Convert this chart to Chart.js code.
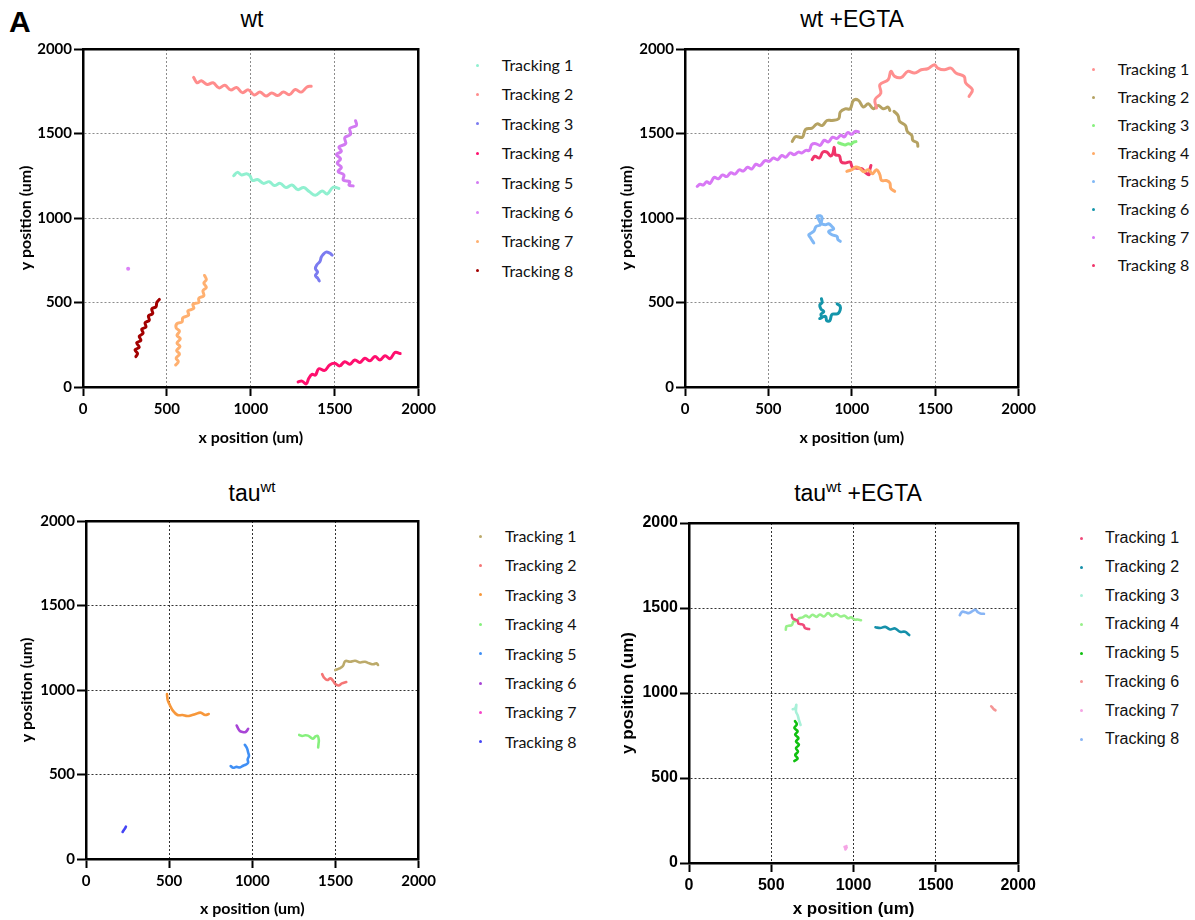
<!DOCTYPE html>
<html>
<head>
<meta charset="utf-8">
<script src="https://cdn.jsdelivr.net/npm/chart.js@4.4.1/dist/chart.umd.min.js"></script>
<style>
  body { margin: 0; background: #fff; width: 1195px; height: 920px; position: relative; overflow: hidden; }
  canvas { position: absolute; }
  .title { position: absolute; width: 300px; font-family: "Liberation Sans", Arial, sans-serif; font-size: 23px; line-height: 23px; text-align: center; white-space: nowrap; color: #000; }
  .title sup { font-size: 15px; line-height: 0; vertical-align: 9px; }
  .leg { position: absolute; white-space: nowrap; color: #111; }
  .dot { position: absolute; width: 3px; height: 3px; border-radius: 50%; }
  #letter { position: absolute; left: 9px; top: 5px; font: bold 30px "Liberation Sans", Arial, sans-serif; }
</style>
</head>
<body>
<div id="letter">A</div>
<div class="title" style="left:102px; top:8px;">wt</div>
<div class="title" style="left:702px; top:8px;">wt +EGTA</div>
<div class="title" style="left:102px; top:482px;">tau<sup>wt</sup></div>
<div class="title" style="left:708px; top:482px;">tau<sup>wt</sup> +EGTA</div>
<canvas id="c1" width="440" height="450" style="left:0px; top:0px;"></canvas>
<canvas id="c2" width="440" height="450" style="left:600px; top:0px;"></canvas>
<canvas id="c3" width="440" height="450" style="left:0px; top:470px;"></canvas>
<canvas id="c4" width="440" height="450" style="left:600px; top:470px;"></canvas>
<script>
// 軸の範囲と目盛り
const AXIS_MIN = 0;
const AXIS_MAX = 2000;
const TICK_STEP = 500;
const trackNames = ['Tracking 1', 'Tracking 2', 'Tracking 3', 'Tracking 4', 'Tracking 5', 'Tracking 6', 'Tracking 7', 'Tracking 8'];

// ---- wt ----
const wtColors = ['#90f0d0', '#ff8c8c', '#7b7bf0', '#ff0f6e', '#d27af2', '#dc82f7', '#ffb070', '#a30000'];
const wt1 = [[898,1250],[920,1270],[945,1255],[975,1262],[995,1250],[1010,1222],[1040,1228],[1075,1205],[1110,1215],[1140,1192],[1175,1205],[1210,1180],[1245,1195],[1280,1168],[1315,1180],[1350,1155],[1385,1135],[1425,1160],[1455,1142],[1490,1182],[1525,1175]];
const wt2 = [[659,1832],[680,1800],[705,1812],[740,1790],[775,1800],[810,1770],[845,1785],[880,1758],[915,1772],[950,1742],[985,1758],[1020,1728],[1055,1745],[1090,1722],[1125,1740],[1160,1725],[1195,1745],[1230,1730],[1265,1760],[1300,1745],[1335,1775],[1360,1780]];
const wt3 = [[1485,780],[1470,792],[1448,798],[1432,785],[1420,768],[1412,742],[1395,725],[1385,700],[1398,680],[1385,660],[1400,642],[1408,628]];
const wt4 = [[1282,30],[1305,35],[1330,18],[1345,50],[1365,75],[1385,70],[1405,108],[1440,98],[1470,130],[1500,140],[1530,125],[1560,150],[1590,135],[1620,160],[1650,145],[1680,170],[1710,155],[1740,180],[1770,160],[1800,185],[1830,168],[1860,205],[1890,198]];
const wt5 = [[1624,1576],[1630,1548],[1590,1530],[1595,1495],[1560,1475],[1565,1440],[1525,1420],[1540,1395],[1510,1375],[1535,1350],[1515,1325],[1540,1300],[1520,1275],[1555,1255],[1550,1225],[1590,1215],[1585,1195],[1610,1190]];
const wt6 = [[269,700]];
const wt7 = [[724,660],[735,635],[720,615],[735,590],[715,570],[720,540],[690,525],[690,500],[655,490],[660,465],[625,450],[630,425],[595,410],[590,385],[560,375],[555,350],[575,330],[560,305],[580,285],[560,260],[578,240],[558,215],[575,195],[555,170],[568,150],[552,130]];
const wt8 = [[455,518],[440,500],[435,475],[410,462],[415,435],[390,420],[395,395],[370,380],[375,355],[350,342],[358,318],[335,300],[345,275],[320,262],[335,235],[310,220],[325,198],[315,180]];

// ---- wt +EGTA ----
const egColors = ['#ff8f8f', '#b5a262', '#86f07d', '#ffaa66', '#80b8f5', '#1495aa', '#d878f5', '#f0346a'];
const eg1 = [[1148,1651],[1139,1700],[1174,1739],[1168,1789],[1218,1818],[1234,1868],[1257,1838],[1297,1832],[1336,1868],[1376,1858],[1416,1877],[1455,1883],[1495,1907],[1515,1887],[1554,1877],[1594,1887],[1624,1858],[1673,1838],[1683,1799],[1723,1759],[1703,1720]];
const eg2 = [[643,1453],[663,1482],[703,1478],[723,1524],[762,1532],[792,1557],[822,1547],[851,1577],[881,1577],[921,1587],[931,1627],[960,1646],[990,1646],[1010,1696],[1040,1696],[1069,1657],[1099,1676],[1129,1646],[1158,1666],[1188,1646],[1218,1656],[1228,1637],[1240,null],[1253,1631],[1277,1607],[1287,1572],[1321,1548],[1333,1512],[1360,1488],[1366,1459],[1392,1445],[1396,1425]];
const eg3 = [[921,1445],[940,1438],[960,1432],[980,1440],[995,1436],[1010,1448],[1025,1452]];
const eg4 = [[970,1276],[1000,1286],[1024,1302],[1049,1292],[1073,1273],[1099,1286],[1123,1262],[1148,1286],[1168,1257],[1178,1222],[1208,1222],[1228,1208],[1234,1174],[1257,1158]];
const eg5 = [[772,852],[753,882],[742,901],[772,921],[786,950],[812,960],[802,990],[792,1009],[812,1013],[822,1000],[818,970],[842,960],[861,966],[881,950],[891,935],[861,921],[881,901],[911,891],[917,872],[931,862]];
const eg6 = [[818,522],[822,500],[808,485],[815,462],[832,445],[815,430],[820,410],[808,405],[842,418],[850,392],[868,392],[880,428],[900,432],[918,435],[930,455],[930,478],[912,492]];
const eg7 = [[73,1187],[90,1200],[110,1195],[130,1215],[150,1205],[175,1240],[200,1232],[225,1255],[250,1245],[275,1268],[300,1260],[325,1285],[350,1278],[375,1300],[400,1290],[425,1318],[450,1310],[480,1340],[505,1335],[530,1355],[555,1345],[580,1370],[605,1360],[630,1385],[655,1375],[680,1390],[700,1385],[725,1400],[745,1400],[760,1435],[785,1440],[810,1430],[835,1460],[860,1450],[885,1478],[910,1470],[935,1490],[955,1480],[975,1505],[1000,1495],[1020,1512],[1040,1510]];
const eg8 = [[762,1345],[778,1365],[806,1355],[826,1390],[851,1390],[871,1368],[885,1378],[895,1418],[901,1374],[925,1368],[937,1331],[960,1325],[990,1331],[1004,1299],[1030,1295],[1059,1292],[1079,1272],[1103,1256],[1109,1290],[1115,1311]];

// ---- tau wt ----
const tauColors = ['#bcaa6a', '#f57575', '#f7973a', '#86f07d', '#3f8ff5', '#a845d6', '#f545c8', '#4545f5'];
const tau1 = [[1499,1118],[1525,1128],[1545,1142],[1559,1171],[1588,1167],[1618,1173],[1648,1163],[1677,1167],[1703,1158],[1727,1152],[1747,1158],[1756,1148]];
const tau2 = [[1420,1094],[1430,1075],[1450,1059],[1470,1069],[1485,1055],[1499,1035],[1519,1027],[1539,1039],[1565,1047]];
const tau3 = [[487,976],[491,941],[504,911],[520,881],[550,852],[580,852],[609,846],[639,852],[659,858],[688,866],[718,852],[738,858]];
const tau4 = [[1282,734],[1300,728],[1318,732],[1335,730],[1350,720],[1365,712],[1380,725],[1393,728],[1400,704],[1398,680],[1396,660]];
const tau5 = [[955,676],[968,655],[975,630],[980,610],[972,590],[975,570],[960,558],[945,552],[925,542],[905,545],[885,540],[870,550]];
const tau6 = [[906,790],[915,772],[925,758],[940,752],[955,750],[965,756],[975,770]];
const tau7 = [];
const tau8 = [[220,160],[228,172],[235,182],[240,192]];

// ---- tau wt +EGTA ----
const tegColors = ['#f04a7a', '#1590aa', '#a8f0d8', '#98f08a', '#10c010', '#f59595', '#f5a5e5', '#88b5f5'];
const teg1 = [[624,1460],[630,1440],[645,1432],[660,1425],[665,1408],[680,1405],[695,1400],[705,1382],[718,1378],[730,1376]];
const teg2 = [[1133,1387],[1162,1382],[1192,1389],[1222,1374],[1252,1380],[1282,1360],[1312,1360],[1338,1341]];
const teg3 = [[630,905],[645,910],[652,930],[650,890],[660,870],[668,840],[678,812]];
const teg4 = [[588,1372],[592,1392],[605,1395],[625,1400],[635,1420],[655,1425],[670,1440],[690,1445],[710,1455],[730,1445],[750,1460],[775,1448],[795,1462],[820,1450],[845,1470],[870,1452],[895,1465],[920,1450],[945,1455],[965,1440],[985,1445],[1005,1432],[1025,1432],[1045,1428]];
const teg5 = [[644,835],[655,815],[640,795],[660,775],[645,755],[665,735],[650,715],[668,695],[650,675],[662,655],[645,635],[660,615],[640,600]];
const teg6 = [[1836,922],[1845,912],[1852,905],[1862,898]];
const teg7 = [[945,95],[952,85],[958,92],[950,80],[956,100]];
const teg8 = [[1645,1458],[1660,1478],[1680,1475],[1700,1470],[1720,1480],[1740,1490],[1755,1475],[1770,1468],[1792,1466]];

/**
 * パネル設定
 */
const panels = [
  { canvas: 'c1', tracks: [wt1, wt2, wt3, wt4, wt5, wt6, wt7, wt8], colors: wtColors,
    yw: 83, xh: 63, pt: 49, pr: 20, ytp: 16, xtp: 3, family: 'Lato', tick: 15, ttl: 16, grid: '#8c8c8c', lw: 3,
    leg: { dotX: 477.7, textX: 501.7, y0: 65, dy: 29.4, family: 'Lato', size: 16 } },
  { canvas: 'c2', tracks: [eg1, eg2, eg3, eg4, eg5, eg6, eg7, eg8], colors: egColors,
    yw: 85, xh: 63, pt: 49, pr: 18, ytp: 17, xtp: 3, family: 'Lato', tick: 15, ttl: 16, grid: '#8c8c8c', lw: 3,
    leg: { dotX: 1093, textX: 1117.7, y0: 69, dy: 28, family: 'Lato', size: 16 } },
  { canvas: 'c3', tracks: [tau1, tau2, tau3, tau4, tau5, tau6, tau7, tau8], colors: tauColors,
    yw: 86, xh: 61, pt: 51, pr: 17, ytp: 17, xtp: 2, family: 'Lato', tick: 15, ttl: 16, grid: '#333', lw: 2.6,
    leg: { dotX: 480.7, textX: 505, y0: 536, dy: 29.4, family: 'Lato', size: 16 } },
  { canvas: 'c4', tracks: [teg1, teg2, teg3, teg4, teg5, teg6, teg7, teg8], colors: tegColors,
    yw: 89, xh: 57, pt: 53, pr: 17, ytp: 18, xtp: 0, family: '"Liberation Sans", Arial', tick: 16, ttl: 17, grid: '#333', lw: 2.6,
    leg: { dotX: 1081.7, textX: 1105, y0: 538.3, dy: 28.7, family: '"Liberation Sans", Arial', size: 16 } }
];

function toPoints(arr) {
  return arr.map(p => ({ x: p[0], y: p[1] }));
}

function makeAxis(p, axis) {
  return {
    type: 'linear',
    position: axis === 'x' ? 'bottom' : 'left',
    min: AXIS_MIN,
    max: AXIS_MAX,
    ticks: {
      stepSize: TICK_STEP,
      color: '#000',
      padding: axis === 'x' ? 4 : 2,
      font: { family: p.family, size: p.tick, weight: 'bold' },
      callback: v => String(v)
    },
    grid: {
      color: p.grid,
      lineWidth: 1,
      tickColor: '#000',
      tickWidth: 2,
      tickLength: 9,
      tickBorderDash: []
    },
    border: { display: true, color: '#000', width: 2.5, dash: [2, 2] },
    title: {
      display: true,
      text: axis === 'x' ? 'x position (um)' : 'y position (um)',
      color: '#000',
      font: { family: p.family, size: p.ttl, weight: 'bold' },
      padding: axis === 'x' ? { top: 0, bottom: p.xtp } : { top: p.ytp, bottom: 0 }
    },
    afterFit: s => {
      if (axis === 'x') s.height = p.xh; else s.width = p.yw;
    }
  };
}

function frameAxis(axis) {
  return {
    type: 'linear',
    position: axis === 'x' ? 'top' : 'right',
    min: AXIS_MIN,
    max: AXIS_MAX,
    ticks: { display: false },
    grid: { display: false },
    border: { display: true, color: '#000', width: 2.5 },
    afterFit: s => {
      if (axis === 'x') s.height = 0; else s.width = 0;
    }
  };
}

function drawLegend(p) {
  const L = p.leg;
  trackNames.forEach((name, i) => {
    const cy = L.y0 + i * L.dy;
    const dot = document.createElement('div');
    dot.className = 'dot';
    dot.style.left = (L.dotX - 1.5) + 'px';
    dot.style.top = (cy - 1.5) + 'px';
    dot.style.background = p.colors[i];
    document.body.appendChild(dot);

    const t = document.createElement('div');
    t.className = 'leg';
    t.textContent = name;
    t.style.left = L.textX + 'px';
    t.style.top = (cy - 10) + 'px';
    t.style.lineHeight = '20px';
    t.style.fontFamily = L.family;
    t.style.fontSize = L.size + 'px';
    document.body.appendChild(t);
  });
}

panels.forEach(p => {
  const ctx = document.getElementById(p.canvas).getContext('2d');
  new Chart(ctx, {
    type: 'scatter',
    data: {
      datasets: p.tracks.map((tr, i) => ({
        label: trackNames[i],
        data: toPoints(tr),
        showLine: true,
        borderColor: p.colors[i],
        backgroundColor: p.colors[i],
        borderWidth: p.lw,
        borderCapStyle: 'round',
        borderJoinStyle: 'round',
        tension: 0.4,
        spanGaps: false,
        pointRadius: tr.length === 1 ? 2 : 0,
        pointBorderWidth: 0
      }))
    },
    options: {
      responsive: false,
      animation: false,
      devicePixelRatio: 1,
      layout: { padding: { top: p.pt, right: p.pr, left: 0, bottom: 0 } },
      plugins: { legend: { display: false }, tooltip: { enabled: false } },
      scales: {
        x: makeAxis(p, 'x'),
        y: makeAxis(p, 'y'),
        x2: frameAxis('x'),
        y2: frameAxis('y')
      }
    }
  });
  drawLegend(p);
});
</script>
</body>
</html>
